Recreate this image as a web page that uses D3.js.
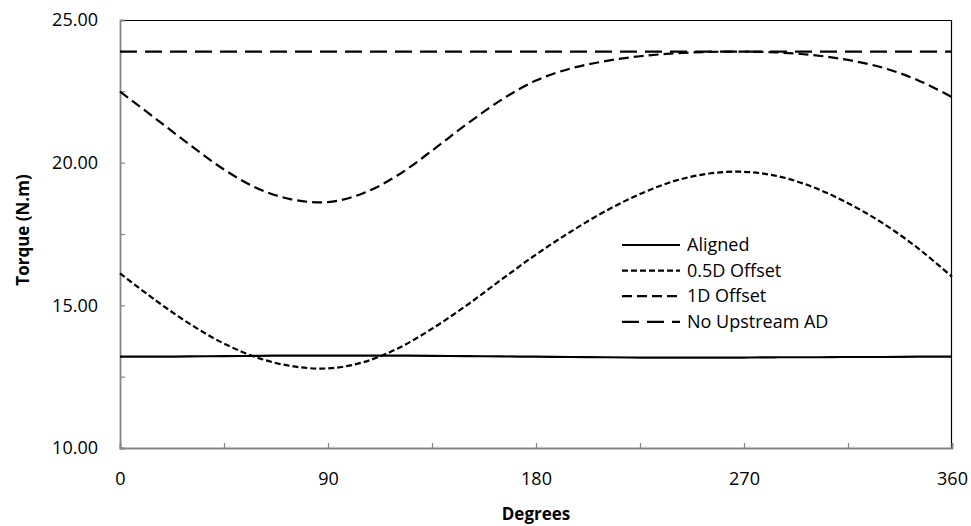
<!DOCTYPE html>
<html>
<head>
<meta charset="utf-8">
<script src="https://cdn.jsdelivr.net/npm/d3@7"></script>
<style>
  body { margin: 0; background: #fff; }
  text { font-family: "Open Sans", "Liberation Sans", sans-serif; fill: #000; }
</style>
</head>
<body>
<div id="chart"></div>
<script>
// angle of rotation (degrees), one point every 15 degrees
const degrees = [0, 15, 30, 45, 60, 75, 90, 105, 120, 135, 150, 165, 180,
                 195, 210, 225, 240, 255, 270, 285, 300, 315, 330, 345, 360];

const aligned = [13.20, 13.20, 13.21, 13.22, 13.23, 13.24, 13.24, 13.24, 13.24, 13.23, 13.22, 13.21, 13.20,
                 13.19, 13.18, 13.17, 13.17, 13.17, 13.17, 13.18, 13.18, 13.19, 13.19, 13.20, 13.20];
const offsetHalfD = [16.12, 15.20, 14.36, 13.66, 13.15, 12.86, 12.79, 13.00, 13.48, 14.18, 15.00, 15.90, 16.78,
                     17.58, 18.30, 18.90, 19.36, 19.62, 19.68, 19.52, 19.14, 18.58, 17.88, 17.02, 16.00];
const offset1D = [22.49, 21.57, 20.64, 19.76, 19.08, 18.70, 18.62, 18.92, 19.55, 20.42, 21.35, 22.20, 22.88,
                  23.30, 23.56, 23.73, 23.83, 23.88, 23.89, 23.86, 23.77, 23.60, 23.33, 22.90, 22.30];
const noUpstream = [23.89, 23.89, 23.89, 23.89, 23.89, 23.89, 23.89, 23.89, 23.89, 23.89, 23.89, 23.89, 23.89,
                    23.89, 23.89, 23.89, 23.89, 23.89, 23.89, 23.89, 23.89, 23.89, 23.89, 23.89, 23.89];

const seriesNames = ["Aligned", "0.5D Offset", "1D Offset", "No Upstream AD"];
const seriesDash = ["none", "6,3", "10,5", "17,8"];
const seriesValues = [aligned, offsetHalfD, offset1D, noUpstream];

const yTicks = [10, 12.5, 15, 17.5, 20, 22.5, 25];
const xTicks = [0, 45, 90, 135, 180, 225, 270, 315, 360];

const width = 971, height = 526;
const margin = {top: 20, right: 19, bottom: 78, left: 120};
const innerW = width - margin.left - margin.right;
const innerH = height - margin.top - margin.bottom;

const svg = d3.select("#chart").append("svg")
    .attr("width", width)
    .attr("height", height);

const g = svg.append("g")
    .attr("transform", `translate(${margin.left},${margin.top})`);

const x = d3.scaleLinear().domain([0, 360]).range([0, innerW]);
const y = d3.scaleLinear().domain([10, 25]).range([innerH, 0]);

// plot frame (top and right edges)
g.append("line").attr("x1", 0).attr("x2", innerW).attr("y1", 0.5).attr("y2", 0.5)
    .attr("stroke", "#000").attr("stroke-width", 1.2);
g.append("line").attr("x1", innerW - 0.5).attr("x2", innerW - 0.5).attr("y1", 0).attr("y2", innerH)
    .attr("stroke", "#000").attr("stroke-width", 1.2);

// axes, ticks pointing inward
const yAxis = g.append("g")
    .call(d3.axisLeft(y).tickValues(yTicks).tickSize(-5).tickPadding(22)
      .tickFormat(d => d % 5 === 0 ? d.toFixed(2) : ""));
const xAxis = g.append("g")
    .attr("transform", `translate(0,${innerH})`)
    .call(d3.axisBottom(x).tickValues(xTicks).tickSize(-5).tickPadding(24)
      .tickFormat(d => d % 90 === 0 ? d : ""));

[yAxis, xAxis].forEach(a => {
  a.select(".domain").attr("stroke", "#868686").attr("stroke-width", 1.8);
  a.selectAll(".tick line").attr("stroke", "#868686").attr("stroke-width", 1.2);
  a.selectAll(".tick text").attr("font-size", 18).attr("font-family", null).attr("fill", "#000");
});

// lines
const line = d3.line()
    .x((d, i) => x(degrees[i]))
    .y(d => y(d))
    .curve(d3.curveCatmullRom.alpha(0.5));

g.selectAll(".series")
    .data(seriesValues)
    .enter()
    .append("path")
    .attr("class", "series")
    .attr("d", d => line(d))
    .attr("fill", "none")
    .attr("stroke", "#000")
    .attr("stroke-width", 2.2)
    .attr("stroke-dasharray", (d, i) => seriesDash[i]);

// axis titles
svg.append("text")
    .attr("x", margin.left + innerW / 2)
    .attr("y", 520)
    .attr("text-anchor", "middle")
    .attr("font-size", 17)
    .attr("font-weight", "bold")
    .text("Degrees");

svg.append("text")
    .attr("transform", "translate(29,230) rotate(-90)")
    .attr("text-anchor", "middle")
    .attr("font-size", 17)
    .attr("font-weight", "bold")
    .text("Torque (N.m)");

// legend
const legend = svg.append("g").attr("transform", "translate(622,245)");
const item = legend.selectAll("g")
    .data(seriesNames)
    .enter()
    .append("g")
    .attr("transform", (d, i) => `translate(0,${i * 25.6})`);

item.append("line")
    .attr("x1", 0).attr("x2", 58).attr("y1", 0).attr("y2", 0)
    .attr("stroke", "#000")
    .attr("stroke-width", 2.2)
    .attr("stroke-dasharray", (d, i) => seriesDash[i]);

item.append("text")
    .attr("x", 65)
    .attr("y", 6)
    .attr("font-size", 18)
    .text(d => d);
</script>
</body>
</html>
